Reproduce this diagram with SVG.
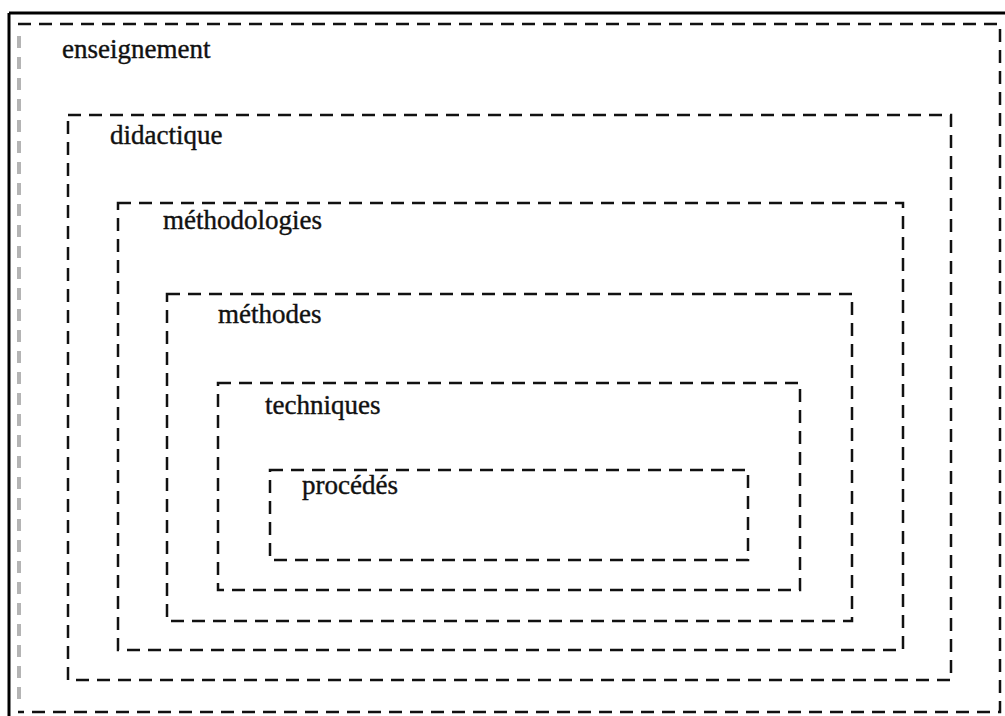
<svg xmlns="http://www.w3.org/2000/svg" width="1005" height="716" viewBox="0 0 1005 716">
<style>
.box{fill:none;stroke:#111111;stroke-width:2.5;stroke-dasharray:13 8}
.grey{fill:none;stroke:#b4b4b4;stroke-width:4;stroke-dasharray:12 9}
.lbl{font-family:"Liberation Serif","Times New Roman",serif;font-size:27px;fill:#111111;stroke:#111111;stroke-width:0.4}
</style>
<rect width="1005" height="716" fill="#ffffff"/>
<g id="frame">
<line x1="9" y1="13" x2="1005" y2="13" stroke="#000" stroke-width="3"/>
<line x1="9" y1="13" x2="9" y2="716" stroke="#000" stroke-width="3"/>
</g>
<g id="enseignement">
<path class="box" d="M18 24 H1000 V712 H18"/>
<line class="grey" x1="19" y1="36" x2="19" y2="702"/>
<text class="lbl" x="62" y="58">enseignement</text>
</g>
<g id="didactique">
<rect class="box" x="68" y="115" width="883" height="565"/>
<text class="lbl" x="110" y="144">didactique</text>
</g>
<g id="methodologies">
<rect class="box" x="118" y="203" width="785" height="447"/>
<text class="lbl" x="163" y="229">méthodologies</text>
</g>
<g id="methodes">
<rect class="box" x="167" y="294" width="685" height="327"/>
<text class="lbl" x="218" y="323">méthodes</text>
</g>
<g id="techniques">
<rect class="box" x="218" y="383" width="582" height="207"/>
<text class="lbl" x="265" y="414">techniques</text>
</g>
<g id="procedes">
<rect class="box" x="270" y="470" width="478" height="90"/>
<text class="lbl" x="302" y="494">procédés</text>
</g>
<g id="connectors"></g>
</svg>
